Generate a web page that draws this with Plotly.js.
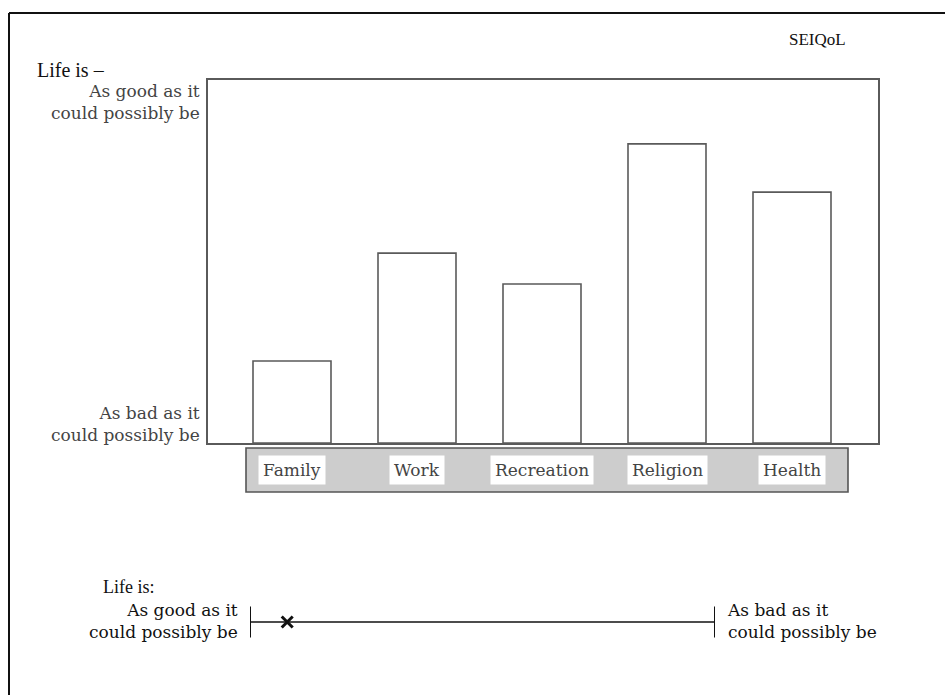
<!DOCTYPE html>
<html>
<head>
<meta charset="utf-8">
<script src="https://cdn.plot.ly/plotly-3.0.1.min.js"></script>
<style>html,body{margin:0;padding:0;background:#fff;}#chart{width:945px;height:695px;}</style>
</head>
<body>
<div id="chart"></div>
<script>
// Data
var domains = ["Family", "Work", "Recreation", "Religion", "Health"];
var ratings = [22.6, 52.3, 43.8, 82.4, 69.1];
var scaleEnds = [0, 100];
var overallRating = [8];
var topLabel = "As good as it<br>could possibly be";
var bottomLabel = "As bad as it<br>could possibly be";

var W = 945, H = 695;
function px(x){return x/W;}
function py(y){return 1-y/H;}

var SERIF = "Liberation Serif, Times New Roman, serif";
var WIDE = "DejaVu Serif, Liberation Serif, serif";
var lineCol = "#5a5a5a";

var traces = [
  {
    type: "bar", x: [0,1,2,3,4], y: ratings, width: 0.624,
    marker: {color: "#ffffff", line: {color: lineCol, width: 1.6}},
    xaxis: "x", yaxis: "y", hoverinfo: "skip", showlegend: false
  },
  {
    type: "scatter", mode: "lines+markers", x: scaleEnds, y: [0,0],
    line: {color: "#111", width: 1.6},
    marker: {symbol: "line-ns-open", size: 22, color: "#111", line: {color: "#111", width: 2}},
    xaxis: "x2", yaxis: "y2", hoverinfo: "skip", showlegend: false
  },
  {
    type: "scatter", mode: "markers", x: overallRating, y: [0],
    marker: {symbol: "x-thin-open", size: 11, color: "#111", line: {color: "#111", width: 3}},
    xaxis: "x2", yaxis: "y2", hoverinfo: "skip", showlegend: false
  }
];

var annotations = [];
function txt(t, x, y, xanchor, size, color, family){
  annotations.push({text: t, x: px(x), y: py(y), xref: "paper", yref: "paper",
    xanchor: xanchor, yanchor: "middle", showarrow: false, borderpad: 0,
    align: xanchor === "right" ? "right" : "left",
    font: {family: family, size: size, color: color}});
}
txt("Life is \u2013", 36, 70, "left", 20, "#111", SERIF);
txt("SEIQoL", 788, 40, "left", 17, "#111", SERIF);
txt(topLabel, 201, 102, "right", 17, "#444", WIDE);
txt(bottomLabel, 201, 424, "right", 17, "#444", WIDE);
txt("Life is:", 102, 587, "left", 18, "#111", SERIF);
txt(topLabel, 239, 621, "right", 17, "#111", WIDE);
txt(bottomLabel, 726, 621, "left", 17, "#111", WIDE);

domains.forEach(function(d, i){
  annotations.push({text: d, x: i, y: py(470), xref: "x", yref: "paper",
    xanchor: "center", yanchor: "middle", showarrow: false,
    bgcolor: "#ffffff", borderpad: 4,
    font: {family: WIDE, size: 17, color: "#444"}});
});

var layout = {
  width: W, height: H,
  margin: {l: 0, r: 0, t: 0, b: 0},
  paper_bgcolor: "#ffffff", plot_bgcolor: "#ffffff",
  showlegend: false,
  xaxis: {domain: [px(208), px(878)], range: [-0.672, 4.688], showgrid: false, zeroline: false,
    showticklabels: false, ticks: "", showline: true, mirror: true, linecolor: lineCol, linewidth: 1.6, fixedrange: true},
  yaxis: {domain: [py(443), py(80)], range: [0, 100], showgrid: false, zeroline: false,
    showticklabels: false, ticks: "", showline: true, mirror: true, linecolor: lineCol, linewidth: 1.6, fixedrange: true},
  xaxis2: {domain: [px(250), px(715)], range: [0, 100], visible: false, anchor: "y2"},
  yaxis2: {domain: [py(640), py(604)], range: [-1, 1], visible: false, anchor: "x2"},
  shapes: [
    {type: "rect", xref: "paper", yref: "paper", x0: px(246), x1: px(848), y0: py(492), y1: py(448),
     fillcolor: "#cdcdcd", line: {color: "#555", width: 1.6}, layer: "below"},
    {type: "line", xref: "paper", yref: "paper", x0: px(9), x1: px(9), y0: py(13), y1: 0,
     line: {color: "#111", width: 2}},
    {type: "line", xref: "paper", yref: "paper", x0: px(9), x1: 1, y0: py(13), y1: py(13),
     line: {color: "#111", width: 2}}
  ],
  annotations: annotations
};

Plotly.newPlot("chart", traces, layout, {displayModeBar: false, staticPlot: true});
</script>
</body>
</html>
